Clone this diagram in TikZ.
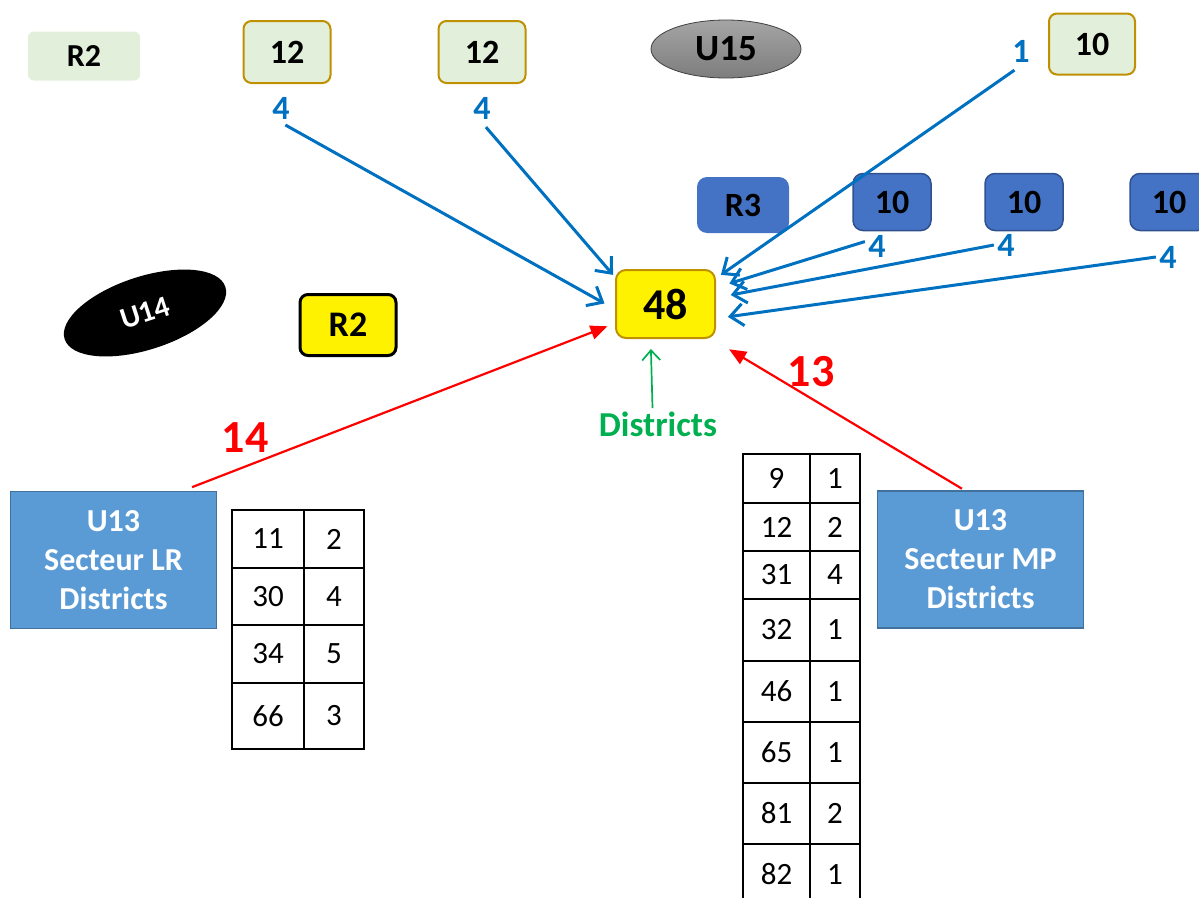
\documentclass[tikz,border=0pt]{standalone}
\usepackage{fontspec}
\setmainfont{Carlito}
\usepackage{tikz}
\usetikzlibrary{shapes.geometric,arrows.meta,positioning}
\usepackage{xcolor}
\definecolor{palegreen}{RGB}{226, 239, 218}
\definecolor{goldline}{RGB}{191, 144, 0}
\definecolor{regionblue}{RGB}{68, 114, 196}
\definecolor{regionline}{RGB}{47, 82, 143}
\definecolor{sectorblue}{RGB}{91, 155, 213}
\definecolor{sectorline}{RGB}{65, 113, 156}
\definecolor{countblue}{RGB}{0, 112, 192}
\definecolor{districtgreen}{RGB}{0, 176, 80}
\definecolor{ufifteentop}{RGB}{165, 165, 165}
\definecolor{ufifteenbottom}{RGB}{125, 125, 125}
\newcommand{\sizept}[1]{\fontsize{#1}{#1}\selectfont}

\begin{document}
\begin{tikzpicture}[x=1pt, y=-1pt,
    greenbox/.style={rectangle, draw=goldline, line width=2pt, fill=palegreen, rounded corners=8pt, minimum width=87pt, minimum height=62pt, font=\sizept{34}\bfseries},
    bluebox/.style={rectangle, draw=regionline, line width=1.5pt, fill=regionblue, rounded corners=10pt, minimum width=78pt, minimum height=57pt, font=\sizept{34}\bfseries},
    sectorbox/.style={rectangle, draw=sectorline, line width=1.5pt, fill=sectorblue, minimum width=206pt, minimum height=137pt, align=center, text=white, font=\fontsize{32}{39}\selectfont\bfseries},
    countlabel/.style={text=countblue, font=\sizept{34}\bfseries},
    redlabel/.style={text=red, font=\sizept{46}\bfseries},
    cell/.style={rectangle, draw=black, line width=2pt, anchor=north west, inner sep=0pt, font=\sizept{31}},
    bluearrow/.style={draw=countblue, line width=3pt, -{Straight Barb[length=13pt,width=22pt]}},
    redarrow/.style={draw=red, line width=2.2pt, -{Triangle[length=17pt,width=14pt]}},
    greenarrow/.style={draw=districtgreen, line width=1.7pt, -{Straight Barb[length=10pt,width=18pt]}}
]
    \useasboundingbox (0,0) rectangle (1199,897);
    \clip (0,0) rectangle (1199,897);

    % Top row
    \node[rectangle, fill=palegreen, rounded corners=6pt, minimum width=112pt, minimum height=49pt, font=\sizept{32}\bfseries] (r2top) at (84,56) {R2};
    \node[greenbox] (twelveA) at (287,52) {12};
    \node[greenbox] (twelveB) at (482,52) {12};
    \node[ellipse, draw=black!75, line width=0.8pt, top color=ufifteentop, bottom color=ufifteenbottom, minimum width=150pt, minimum height=58pt, font=\sizept{37}\bfseries] (u15) at (726,49) {U15};
    \node[greenbox, minimum width=86pt, minimum height=61pt] (tenTop) at (1092,44) {10};
    \node[countlabel] (cOne) at (1021,51) {1};
    \node[countlabel] (cFourA) at (281,108) {4};
    \node[countlabel] (cFourB) at (482,108) {4};

    % R3 row
    \node[bluebox, draw=none, minimum width=92pt, minimum height=56pt] (r3) at (743,205) {R3};
    \node[bluebox] (tenA) at (892,202) {10};
    \node[bluebox] (tenB) at (1024,202) {10};
    \node[bluebox] (tenC) at (1169,202) {10};
    \node[countlabel] (cFourC) at (877,246) {4};
    \node[countlabel] (cFourD) at (1006,245) {4};
    \node[countlabel] (cFourE) at (1168,257) {4};

    % Centre
    \node[rectangle, draw=goldline, line width=2pt, fill=yellow, rounded corners=10pt, minimum width=99pt, minimum height=68pt, font=\sizept{44}\bfseries] (n48) at (665.5,304) {48};
    \node[text=districtgreen, font=\sizept{35}\bfseries] (districts) at (658,424) {Districts};

    % Left side
    \node[ellipse, fill=black, rotate=18, minimum width=169pt, minimum height=73pt, text=white, font=\sizept{30}\bfseries] (u14) at (145,313) {U14};
    \node[rectangle, draw=black, line width=3pt, fill=yellow, rounded corners=8pt, minimum width=96pt, minimum height=61pt, font=\sizept{36}\bfseries] (r2yellow) at (348,325) {R2};
    \node[redlabel] (cFourteen) at (245,438) {14};
    \node[redlabel] (cThirteen) at (811,372) {13};

    % Sectors
    \node[sectorbox] (secLR) at (113.5,560) {U13\\Secteur LR\\Districts};
    \node[sectorbox] (secMP) at (980.5,559.5) {U13\\Secteur MP\\Districts};

    % Tables
    \foreach \top/\bot/\dep/\num [count=\i] in {509/567/11/2, 567/624/30/4, 624/682/34/5, 682/748/66/3} {
        \node[cell, minimum width=72pt, minimum height={(\bot-\top)*1pt}] (lr\i a) at (231,\top) {\dep};
        \node[cell, minimum width=60pt, minimum height={(\bot-\top)*1pt}] (lr\i b) at (303,\top) {\num};
    }
    \foreach \top/\bot/\dep/\num [count=\i] in {453/502/9/1, 502/550/12/2, 550/598/31/4, 598/660/32/1, 660/721/46/1, 721/782/65/1, 782/843/81/2, 843/904/82/1} {
        \node[cell, minimum width=67pt, minimum height={(\bot-\top)*1pt}] (mp\i a) at (742,\top) {\dep};
        \node[cell, minimum width=50pt, minimum height={(\bot-\top)*1pt}] (mp\i b) at (809,\top) {\num};
    }

    % Connectors
    \draw[bluearrow, shorten <=5pt, shorten >=12pt] (cFourA.south) -- (n48.186);
    \draw[bluearrow, shorten <=6pt, shorten >=3pt] (cFourB.south) -- (n48.152);
    \draw[bluearrow, shorten <=8pt, shorten >=6pt] (cOne.south) -- (n48.27);
    \draw[bluearrow, shorten >=14pt] (cFourC.160) -- (n48.18);
    \draw[bluearrow, shorten >=15pt] (cFourD.west) -- (n48.7);
    \draw[bluearrow, shorten >=12pt] (cFourE.west) -- (n48.-16);
    \draw[redarrow, shorten <=10pt, shorten >=8pt] (secLR.45) -- (n48.201);
    \draw[redarrow, shorten <=3pt, shorten >=20pt] (secMP.103) -- (n48.-37);
    \draw[greenarrow, shorten >=10pt] (districts.109) -- (n48.247);
\end{tikzpicture}
\end{document}
